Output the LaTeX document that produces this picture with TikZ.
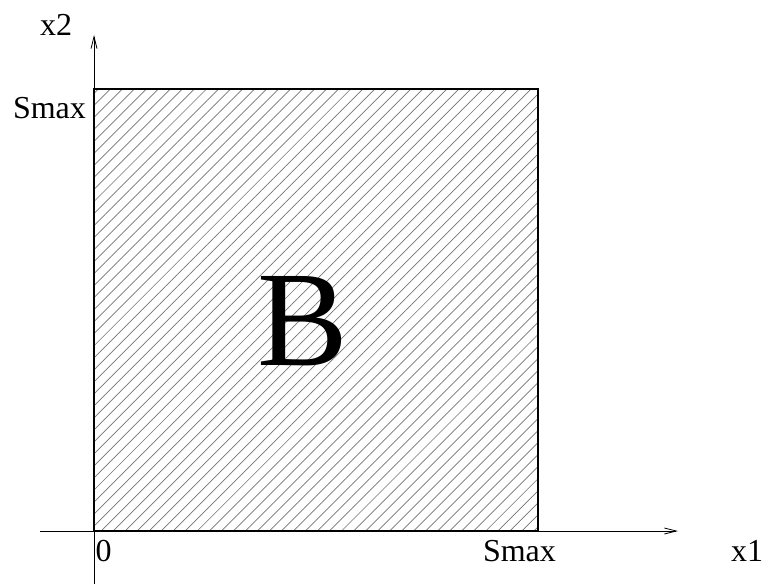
\documentclass[tikz,border=0pt]{standalone}
\usepackage{fontspec}
\setmainfont{Liberation Serif}
\usetikzlibrary{arrows.meta,patterns.meta}

\begin{document}
\begin{tikzpicture}[
  x=1pt, y=-1pt,
  axis/.style={line width=0.8pt, -{Straight Barb[length=12pt,width=6pt]}},
  region/.style={draw, line width=1.2pt,
                 pattern={Lines[angle=45,distance=8.5pt,line width=0.7pt]},
                 pattern color=black!55},
  lbl/.style={inner sep=0pt, anchor=base, font=\fontsize{32}{36}\selectfont}
]
  \useasboundingbox (0,0) rectangle (768,584);
  % axes ends
  \coordinate (o) at (94,531);
  \coordinate (xs) at (40,531);
  \coordinate (xe) at (678,531);
  \coordinate (ys) at (94,584);
  \coordinate (ye) at (94,35);
  \coordinate (top) at (538,89);
  % shaded set
  \path[region] (o) rectangle (top);
  \draw[axis] (xs) -- (xe);
  \draw[axis] (ys) -- (ye);
  \draw[line width=1.2pt] (o) rectangle (top);
  % labels
  \node[lbl] (x2) at (56,35) {x2};
  \node[lbl] (smaxy) at (49.5,118) {Smax};
  \node[lbl] (zero) at (103.5,561) {0};
  \node[lbl] (smaxx) at (519.5,561) {Smax};
  \node[lbl] (x1) at (747,561) {x1};
  \node[inner sep=0pt, anchor=base, font=\fontsize{136}{140}\selectfont] (b) at (303,365) {B};
\end{tikzpicture}
\end{document}
